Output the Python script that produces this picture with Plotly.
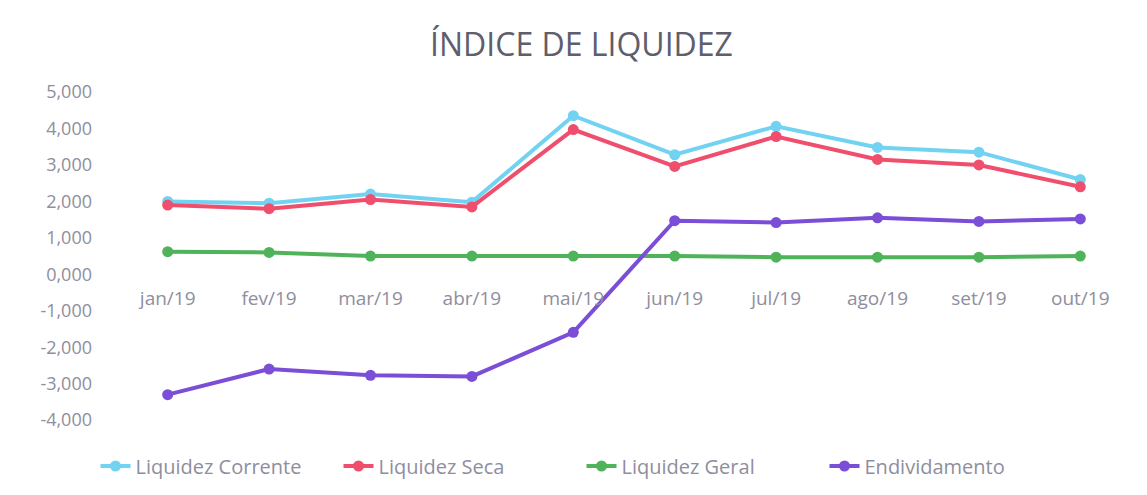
import plotly.graph_objects as go

categories = ["jan/19", "fev/19", "mar/19", "abr/19", "mai/19", "jun/19", "jul/19", "ago/19", "set/19", "out/19"]
liquidez_corrente = [2.00, 1.95, 2.20, 1.98, 4.35, 3.28, 4.06, 3.48, 3.35, 2.60]
liquidez_seca = [1.90, 1.80, 2.05, 1.85, 3.97, 2.96, 3.78, 3.15, 3.00, 2.40]
liquidez_geral = [0.62, 0.60, 0.50, 0.50, 0.50, 0.50, 0.47, 0.47, 0.47, 0.50]
endividamento = [-3.30, -2.60, -2.77, -2.80, -1.59, 1.47, 1.42, 1.55, 1.45, 1.52]
y_tick_vals = [5, 4, 3, 2, 1, 0, -1, -2, -3, -4]
y_tick_text = ["5,000", "4,000", "3,000", "2,000", "1,000", "0,000", "-1,000", "-2,000", "-3,000", "-4,000"]

series = [
    ("Liquidez Corrente", liquidez_corrente, "#72d2f2"),
    ("Liquidez Seca", liquidez_seca, "#ef4f6c"),
    ("Liquidez Geral", liquidez_geral, "#4fb35a"),
    ("Endividamento", endividamento, "#7a4ed6"),
]

fig = go.Figure()
for name, vals, color in series:
    fig.add_trace(go.Scatter(
        x=categories, y=vals, name=name, mode="lines+markers",
        line=dict(color=color, width=4),
        marker=dict(color=color, size=11),
    ))

y_min, y_max = -4.27, 5.33
fig.update_layout(
    width=1147, height=495,
    paper_bgcolor="white", plot_bgcolor="white",
    margin=dict(l=109, r=24, t=72, b=73, autoexpand=False),
    font=dict(family="Open Sans, sans-serif", color="#8e8e9e", size=15),
    title=dict(text="ÍNDICE DE LIQUIDEZ", x=0.5, xanchor="center", y=1 - 37 / 495, yanchor="middle",
               font=dict(size=32, color="#5e5e6c", family="Open Sans, sans-serif")),
    showlegend=True,
    legend=dict(orientation="h", x=0.5, xanchor="center", xref="container",
                y=1 - 458 / 495, yanchor="middle", yref="container",
                font=dict(size=20, color="#8e8e9e"), entrywidth=198, entrywidthmode="pixels",
                tracegroupgap=0),
    xaxis=dict(
        type="category", range=[-0.5, 9.5], showgrid=False, showline=False, zeroline=False,
        ticks="", anchor="free", position=(0 - y_min) / (y_max - y_min),
        tickfont=dict(size=19, color="#8e8e9e"), ticklabelstandoff=11,
    ),
    yaxis=dict(
        range=[y_min, y_max], showgrid=False, zeroline=False, showline=False,
        tickvals=y_tick_vals, ticktext=y_tick_text, ticks="",
        tickfont=dict(size=18, color="#8e8e9e"), ticklabelstandoff=24,
    ),
)

fig.write_html("out.html")
